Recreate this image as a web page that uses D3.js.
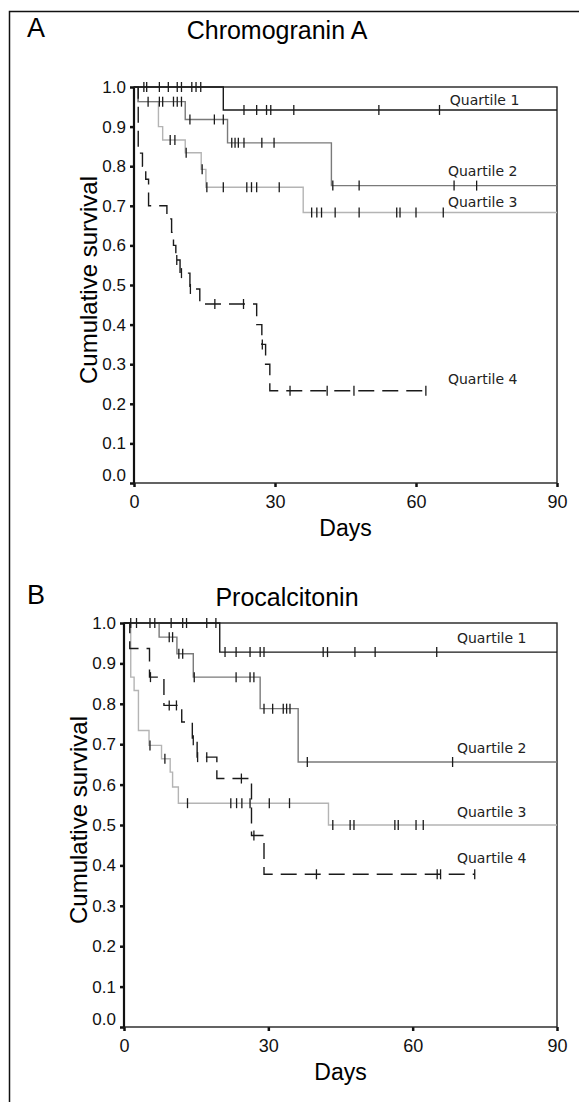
<!DOCTYPE html>
<html>
<head>
<meta charset="utf-8">
<script src="https://cdn.jsdelivr.net/npm/d3@7/dist/d3.min.js"></script>
<style>
  body { margin: 0; background: #fff; }
  svg { display: block; font-family: 'Liberation Sans', Arial, sans-serif; }
  .tick text { font-size: 18px; fill: #111; }
  .y-axis .tick text { font-size: 17px; }
  .tick line { stroke: #111; stroke-width: 2.5; }
  .q-label { font-family: 'DejaVu Sans', sans-serif; font-size: 14px; fill: #222; }
</style>
</head>
<body>
<svg width="579" height="1102"></svg>
<script>
// axis ticks
const dayTicks = [0, 30, 60, 90];
const survTicks = [0, 0.1, 0.2, 0.3, 0.4, 0.5, 0.6, 0.7, 0.8, 0.9, 1.0];
const quartileNames = ['Quartile 1', 'Quartile 2', 'Quartile 3', 'Quartile 4'];
const quartileColors = ['#1a1a1a', '#7a7a7a', '#b4b4b4', '#1a1a1a'];

// steps are [day, survival after the step]; censored = days with a "+" mark; lastDay = end of line
// --- Chromogranin A ---
const chgaQ1Steps = [[0, 1], [19.0, 0.942]];
const chgaQ1Censored = [2.1, 2.7, 5.4, 7.3, 9.2, 10.1, 12.3, 13.2, 14.2, 23.4, 26.1, 28.2, 29.1, 34.0, 52.1, 65.0];
const chgaQ2Steps = [[0, 1], [0.9, 0.963], [10.9, 0.918], [19.9, 0.859], [42.0, 0.751]];
const chgaQ2Censored = [3.0, 5.4, 6.1, 8.4, 9.2, 10.1, 11.9, 17.1, 19.0, 20.8, 21.5, 22.2, 23.4, 27.2, 29.8, 42.3, 47.9, 68.1, 72.9];
const chgaQ3Steps = [[0, 1], [0.8, 0.963], [5.2, 0.9], [6.1, 0.866], [10.9, 0.834], [14.3, 0.792], [15.3, 0.747], [36.0, 0.683]];
const chgaQ3Censored = [7.7, 8.7, 11.1, 14.5, 15.5, 19.0, 24.0, 25.0, 26.1, 30.9, 37.8, 38.9, 39.9, 42.8, 47.9, 55.9, 56.6, 60.0, 65.8];
const chgaQ4Steps = [[0, 1], [0.9, 0.833], [1.8, 0.8], [2.5, 0.767], [3.1, 0.7], [7.0, 0.667], [8.0, 0.633], [8.4, 0.6], [8.9, 0.563], [9.8, 0.53], [11.9, 0.49], [14.0, 0.452], [26.1, 0.4], [27.2, 0.35], [28.0, 0.3], [28.9, 0.233]];
const chgaQ4Censored = [9.1, 10.1, 12.0, 17.2, 23.3, 27.3, 33.2, 41.1, 46.8, 62.1];
const chgaLastDay = [90, 90, 90, 62.1];
const chgaLabelAt = [[67.2, 0.955], [66.8, 0.776], [66.8, 0.697], [66.8, 0.250]];

// --- Procalcitonin ---
const pctQ1Steps = [[0, 1], [19.9, 0.928]];
const pctQ1Censored = [1.4, 2.6, 5.4, 6.4, 9.8, 12.2, 13.0, 17.2, 19.1, 21.0, 23.3, 26.2, 28.3, 29.1, 41.4, 42.3, 48.0, 52.2, 65.0];
const pctQ2Steps = [[0, 1], [7.3, 0.965], [11.0, 0.924], [14.4, 0.866], [28.3, 0.788], [36.2, 0.656]];
const pctQ2Censored = [9.4, 10.1, 11.4, 12.2, 14.6, 23.3, 26.2, 27.0, 29.1, 30.9, 33.1, 33.8, 34.5, 38.1, 68.3];
const pctQ3Steps = [[0, 1], [1.4, 0.866], [2.1, 0.833], [3.0, 0.734], [5.2, 0.697], [7.8, 0.664], [9.6, 0.631], [10.1, 0.594], [11.3, 0.554], [42.5, 0.5]];
const pctQ3Censored = [5.4, 8.5, 13.2, 22.2, 23.4, 24.5, 26.2, 30.2, 34.4, 43.4, 47.0, 47.8, 56.3, 57.0, 60.7, 62.2];
const pctQ4Steps = [[0, 1], [1.2, 0.937], [5.3, 0.866], [8.3, 0.796], [12.0, 0.755], [14.2, 0.71], [15.2, 0.668], [19.3, 0.615], [26.5, 0.474], [29.1, 0.378]];
const pctQ4Censored = [5.5, 9.4, 10.9, 14.4, 15.3, 17.2, 24.4, 27.0, 40.0, 65.1, 65.8, 72.9];
const pctLastDay = [90, 90, 90, 72.9];
const pctLabelAt = [[69.2, 0.95], [69.2, 0.678], [69.2, 0.52], [69.2, 0.407]];

const svg = d3.select('svg');

// outer frame round the figure (cut off on the right and at the bottom)
svg.append('rect')
    .attr('x', 9.5)
    .attr('y', 11.5)
    .attr('width', 600)
    .attr('height', 1200)
    .attr('fill', 'none')
    .attr('stroke', '#111')
    .attr('stroke-width', 1.5);

const survAt = (steps, t) => {
  let s = steps[0][1];
  steps.forEach(d => { if (d[0] <= t) s = d[1]; });
  return s;
};

const render = panel => {
  const xScale = d3.scaleLinear().domain([0, 90]).range([panel.left, panel.right]);
  const yScale = d3.scaleLinear().domain([0, 1]).range([panel.bottom, panel.top]);

  svg.append('text')
      .attr('x', 27)
      .attr('y', panel.letterY)
      .style('font-size', '27px')
      .text(panel.letter);

  svg.append('text')
      .attr('x', panel.titleX)
      .attr('y', panel.letterY + 2)
      .attr('text-anchor', 'middle')
      .style('font-size', '25px')
      .text(panel.title);

  const yAxis = d3.axisLeft(yScale)
    .tickValues(survTicks)
    .tickSize(4)
    .tickPadding(4)
    .tickFormat(d3.format('.1f'));

  const yAxisG = svg.append('g')
      .attr('class', 'y-axis')
      .attr('transform', `translate(${panel.left},0)`)
      .call(yAxis);
  yAxisG.select('.domain').remove();
  yAxisG.selectAll('.tick text').filter(d => d === 0).attr('y', -8);

  const xAxis = d3.axisBottom(xScale)
    .tickValues(dayTicks)
    .tickSize(4)
    .tickPadding(8);

  const xAxisG = svg.append('g')
      .attr('transform', `translate(0,${panel.bottom})`)
      .call(xAxis);
  xAxisG.select('.domain').remove();

  svg.append('text')
      .attr('transform', `translate(${panel.left - 37},${(panel.top + panel.bottom) / 2 - 5}) rotate(-90)`)
      .attr('text-anchor', 'middle')
      .style('font-size', '24px')
      .text('Cumulative survival');

  svg.append('text')
      .attr('x', (panel.left + panel.right) / 2)
      .attr('y', panel.bottom + 53)
      .attr('text-anchor', 'middle')
      .style('font-size', '23px')
      .text('Days');

  // plot box
  svg.append('rect')
      .attr('x', xScale(0))
      .attr('y', yScale(1))
      .attr('width', xScale(90) - xScale(0))
      .attr('height', yScale(0) - yScale(1))
      .attr('fill', 'none')
      .attr('stroke', '#222')
      .attr('stroke-width', 1.4);
  svg.append('line')
      .attr('x1', xScale(0)).attr('x2', xScale(0))
      .attr('y1', yScale(1)).attr('y2', yScale(0))
      .attr('stroke', '#111')
      .attr('stroke-width', 2.2);

  const lineGenerator = d3.line()
    .x(d => xScale(d[0]))
    .y(d => yScale(d[1]))
    .curve(d3.curveStepAfter);

  const g = svg.append('g');
  // light curves first, dark ones on top
  [2, 1, 3, 0].forEach(i => {
    const steps = panel.steps[i];
    const pts = steps.concat([[panel.lastDay[i], steps[steps.length - 1][1]]]);
    g.append('path')
        .attr('d', lineGenerator(pts))
        .attr('fill', 'none')
        .attr('stroke', quartileColors[i])
        .attr('stroke-width', 1.4)
        .attr('stroke-dasharray', i === 3 ? '16,8' : null);

    g.selectAll(null)
      .data(panel.censored[i])
      .enter().append('line')
        .attr('x1', d => xScale(d))
        .attr('x2', d => xScale(d))
        .attr('y1', d => yScale(survAt(steps, d)) - 5)
        .attr('y2', d => yScale(survAt(steps, d)) + 5)
        .attr('stroke', '#1a1a1a')
        .attr('stroke-width', 1.3);
  });

  svg.selectAll(null)
    .data(quartileNames)
    .enter().append('text')
      .attr('class', 'q-label')
      .attr('x', (d, i) => xScale(panel.labelAt[i][0]))
      .attr('y', (d, i) => yScale(panel.labelAt[i][1]))
      .text(d => d);
};

render({
  letter: 'A',
  title: 'Chromogranin A',
  letterY: 37,
  titleX: 277,
  left: 134, right: 557, top: 87, bottom: 483,
  steps: [chgaQ1Steps, chgaQ2Steps, chgaQ3Steps, chgaQ4Steps],
  censored: [chgaQ1Censored, chgaQ2Censored, chgaQ3Censored, chgaQ4Censored],
  lastDay: chgaLastDay,
  labelAt: chgaLabelAt
});

render({
  letter: 'B',
  title: 'Procalcitonin',
  letterY: 604,
  titleX: 287,
  left: 124, right: 557, top: 623, bottom: 1027,
  steps: [pctQ1Steps, pctQ2Steps, pctQ3Steps, pctQ4Steps],
  censored: [pctQ1Censored, pctQ2Censored, pctQ3Censored, pctQ4Censored],
  lastDay: pctLastDay,
  labelAt: pctLabelAt
});
</script>
</body>
</html>
